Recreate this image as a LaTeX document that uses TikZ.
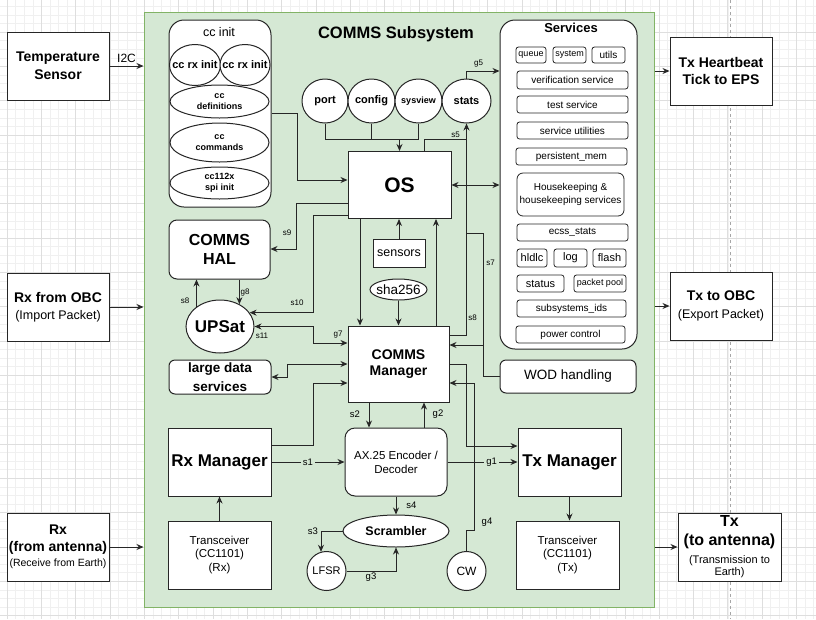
\documentclass[tikz,border=0pt]{standalone}
\usepackage{fontspec}
\setmainfont{Liberation Sans}
\usetikzlibrary{arrows.meta,shapes.geometric}

\definecolor{commsfill}{HTML}{D5E8D4}
\definecolor{commsline}{HTML}{82B366}
\newcommand{\fsz}[2]{\fontsize{#1}{#2}\selectfont}

\tikzset{
  sz/.style 2 args={minimum width=#1pt, minimum height=#2pt},
  box/.style={draw=black!85, line width=1pt, fill=white, align=center, inner sep=1pt},
  rbox/.style={box, rounded corners=#1},
  rbox/.default=6pt,
  oval/.style={box, ellipse, inner sep=0pt},
  sitem/.style={box, line width=0.8pt, rounded corners=2.5pt, font=\fsz{10}{12.3}},
  wire/.style={draw=black!85, line width=0.9pt},
  conn/.style={wire, -{Stealth[length=7pt,width=6pt]}},
  conn2/.style={wire, {Stealth[length=7pt,width=6pt]}-{Stealth[length=7pt,width=6pt]}},
  lbl/.style={font=\fsz{8}{9}, inner sep=0.5pt},
  lblm/.style={font=\fsz{9.5}{11}, inner sep=0.5pt},
  gridminor/.style={draw=black!6, line width=0.4pt},
  gridmajor/.style={draw=black!13, line width=0.5pt},
}

\begin{document}
\begin{tikzpicture}[x=1pt, y=-1pt]
\useasboundingbox (0,0) rectangle (816,619);
% grid of the page
\foreach \i in {0,...,94} \draw[gridminor] ({7+8.58*\i},0) -- ({7+8.58*\i},619);
\foreach \i in {-3,...,68} \draw[gridminor] (0,{32+8.58*\i}) -- (816,{32+8.58*\i});
\foreach \i in {0,...,23} \draw[gridmajor] ({7+34.32*\i},0) -- ({7+34.32*\i},619);
\foreach \i in {0,...,17} \draw[gridmajor] (0,{32+34.32*\i}) -- (816,{32+34.32*\i});
\draw[black!35, dashed, line width=0.5pt] (730,0) -- (730,619);

% subsystem frame
\node[draw=commsline, fill=commsfill, line width=1pt, sz={510}{595}] (subsys) at (399,309.5) {};
\node[font=\fsz{16.5}{20}\bfseries] (title) at (396,34) {COMMS Subsystem};

% outside blocks
\node[box, sz={102}{68}, font=\fsz{14}{18}\bfseries] (temp) at (58,66) {Temperature\\Sensor};
\node[box, sz={102}{68}, font=\fsz{12.5}{16.5}] (rxobc) at (58,307) {{\fsz{14}{16.5}\bfseries Rx from OBC}\\(Import Packet)};
\node[box, sz={102}{68}, font=\fsz{10.5}{15}] (rxant) at (58,547) {{\fsz{14}{16}\bfseries Rx}\\[1.5pt]{\fsz{14}{16}\bfseries (from antenna)}\\(Receive from Earth)};
\node[box, sz={102}{68}, font=\fsz{14}{17}\bfseries] (hb) at (721,71) {Tx Heartbeat\\Tick to EPS};
\node[box, sz={102}{68}, font=\fsz{12.5}{18}] (txobc) at (721,306) {{\fsz{14}{17}\bfseries Tx to OBC}\\(Export Packet)};
\node[box, sz={103}{68}, font=\fsz{11}{13}] (txant) at (729.5,547) {{\fsz{16}{19}\bfseries Tx}\\[6pt]{\fsz{16}{19}\bfseries (to antenna)}\\[5pt](Transmission to\\[-1pt]Earth)};

% cc init group
\node[rbox=15pt, sz={102}{187}] (ccinit) at (220,113.5) {};
\node[font=\fsz{12.5}{14}] (ccinit-t) at (219,32) {cc init};
\node[oval, sz={51}{41}, font=\fsz{11}{13}\bfseries] (ccrx1) at (195,65) {\makebox[0pt]{cc rx init}};
\node[oval, sz={50}{41}, font=\fsz{11}{13}\bfseries] (ccrx2) at (245,65) {\makebox[0pt]{cc rx init}};
\node[oval, sz={99}{33}, font=\fsz{9}{10.3}\bfseries] (ccdef) at (219.5,101.5) {cc\\definitions};
\node[oval, sz={99}{39}, font=\fsz{9}{10.7}\bfseries] (cccmd) at (219.5,142.5) {cc\\commands};
\node[oval, sz={99}{32}, font=\fsz{9}{11.3}\bfseries] (ccspi) at (219.5,183) {cc112x\\spi init};

% OS and its helpers
\node[box, sz={103}{67}, font=\fsz{21}{24}\bfseries] (os) at (399.5,185) {OS};
\node[oval, sz={46}{44}, font=\fsz{11}{13}\bfseries] (port) at (325,101) {port};
\node[oval, sz={47}{44}, font=\fsz{11}{13}\bfseries] (config) at (371.5,101) {\makebox[0pt]{config}};
\node[oval, sz={47}{44}, font=\fsz{9}{11}\bfseries] (sysview) at (418.5,101) {\makebox[0pt]{sysview}};
\node[oval, sz={49}{44}, font=\fsz{11}{13}\bfseries] (stats) at (466.5,101) {stats};

% services group
\node[rbox=15pt, sz={137}{329}] (services) at (568.5,184.5) {};
\node[font=\fsz{13}{15}\bfseries] (services-t) at (571,28) {Services};
\node[sitem, sz={30}{16}, font=\fsz{9}{11}] (queue) at (531,55) {queue};
\node[sitem, sz={33}{16}, font=\fsz{9}{11}] (system) at (569.5,55) {system};
\node[sitem, sz={33}{16}] (utils) at (608.5,55) {utils};
\node[sitem, sz={111}{18}] (verif) at (572.5,80) {verification service};
\node[sitem, sz={111}{17}] (testsrv) at (572.5,104.5) {test service};
\node[sitem, sz={111}{17}] (srvutil) at (572.5,130.5) {service utilities};
\node[sitem, sz={111}{17}] (pmem) at (571.5,156.5) {persistent\_mem};
\node[sitem, rounded corners=6pt, sz={107}{43}] (hk) at (570.5,194.5) {Housekeeping \&\\housekeeping services};
\node[sitem, sz={111}{17}] (ecss) at (572.5,232.5) {ecss\_stats};
\node[sitem, sz={30}{18}, font=\fsz{11}{13}] (hldlc) at (532,258) {hldlc};
\node[sitem, sz={33}{18}, font=\fsz{11}{13}] (log) at (570.5,258) {log};
\node[sitem, sz={33}{18}, font=\fsz{11}{13}] (flash) at (609.5,258) {flash};
\node[sitem, sz={47}{17}, font=\fsz{11}{13}] (status) at (540.5,283.5) {status};
\node[sitem, sz={52}{17}, font=\fsz{9}{11}] (ppool) at (600,283.5) {packet pool};
\node[sitem, sz={109}{17}] (subids) at (571.5,308.5) {subsystems\_ids};
\node[sitem, sz={109}{17}] (power) at (570.5,334.5) {power control};

% left column
\node[rbox=8pt, sz={101}{59}, font=\fsz{16}{19.5}\bfseries] (hal) at (219.5,249.5) {COMMS\\HAL};
\node[oval, sz={68}{53}, font=\fsz{17}{20}\bfseries] (upsat) at (220,326.5) {\makebox[0pt]{UPSat}};
\node[rbox=6pt, sz={102}{34}, font=\fsz{13.5}{19}\bfseries] (lds) at (220,377) {large data\\services};
\node[box, sz={103}{68}, font=\fsz{17}{20}\bfseries] (rxm) at (219.5,462) {Rx Manager};
\node[box, sz={103}{68}, font=\fsz{11.5}{13.3}] (trx) at (219.5,555) {Transceiver\\(CC1101)\\(Rx)};

% middle column
\node[box, sz={52}{28}, font=\fsz{12.5}{15}] (sensors) at (399,253) {sensors};
\node[oval, sz={57}{21}, font=\fsz{13.5}{15}] (sha) at (398.5,289.5) {\makebox[0pt]{sha256}};
\node[box, sz={101}{76}, font=\fsz{14}{16.7}\bfseries] (mgr) at (398.5,364) {COMMS\\Manager};
\node[rbox=10pt, sz={102}{68}, font=\fsz{11.5}{14}] (ax) at (396,462) {AX.25 Encoder /\\Decoder};
\node[oval, sz={106}{32}, font=\fsz{12.5}{15}\bfseries] (scr) at (396,531) {Scrambler};
\node[box, circle, inner sep=0pt, minimum size=39pt, font=\fsz{11}{13}] (lfsr) at (326.5,571) {LFSR};
\node[box, circle, inner sep=0pt, minimum size=39pt, font=\fsz{12}{14}] (cw) at (466.5,571) {CW};

% right column
\node[rbox=6pt, sz={136}{33}, font=\fsz{13.5}{16}] (wod) at (568,376.5) {WOD handling};
\node[box, sz={103}{68}, font=\fsz{17}{20}\bfseries] (txm) at (569.5,462) {Tx Manager};
\node[box, sz={103}{68}, font=\fsz{11.5}{13.3}] (ttx) at (567.5,555) {Transceiver\\(CC1101)\\(Tx)};

% links across the frame
\draw[conn] (temp.east) -- node[above, font=\fsz{12}{14}] {I2C} (temp.east -| subsys.west);
\draw[conn] (rxobc.east) -- (rxobc.east -| subsys.west);
\draw[conn] (rxant.east) -- (rxant.east -| subsys.west);
\draw[conn] (hb.west -| subsys.east) -- (hb.west);
\draw[conn] (txobc.west -| subsys.east) -- (txobc.west);
\draw[conn] (txant.west -| subsys.east) -- (txant.west);

% around the OS
\draw[conn] (ccinit.east |- 0,113) -| (297,180) -- (os.west |- 0,180);
\draw[wire] (port.south) |- (sysview.south |- 0,139) -- (sysview.south);
\draw[wire] (config.south) -- (config.south |- 0,139);
\draw[conn] (os.north |- 0,139) -- (os.north);
\draw[wire] (424,0 |- os.north) |- (stats.south |- 0,139);
\draw[conn] (stats.north) |- (services.west |- 0,71);
\draw[conn2] (os.east) -- (os.east -| services.west);
\draw[conn] (mgr.east |- 0,335) -| (stats.south);
\draw[wire] (wod.west) -| (483,233) -- (stats.south |- 0,233);
\coordinate (wodjoin) at (483,345);
\draw[conn] (wodjoin) -- (mgr.east |- wodjoin);
\draw[conn] (os.west |- 0,203) -| (296,249) -- (hal.east |- 0,249);
\draw[conn] (os.west |- 0,215) -| (313,0 |- upsat.25) -- (upsat.25);
\draw[conn] (upsat.140) -- (hal.south -| upsat.140);
\draw[conn] (hal.south -| upsat.49) -- (upsat.49);
\draw[conn2] (upsat.east) -| (313,343) -- (mgr.west |- 0,343);
\draw[conn] (os.south -| 360,0) -- (mgr.north -| 360,0);
\draw[conn] (mgr.north -| 436,0) -- (os.south -| 436,0);
\draw[conn] (sensors.north) -- (os.south -| sensors.north);
\draw[conn] (sha.south) -- (mgr.north -| sha.south);
\draw[conn2] (lds.east) -| (287,0 |- mgr.west) -- (mgr.west);

% radio chain
\draw[conn] (rxm.east |- 0,445) -| (313,383) -- (mgr.west |- 0,383);
\draw[conn] (rxm.east) -- node[lblm, fill=commsfill, inner sep=2pt] {s1} (ax.west);
\draw[conn] (ax.east) -- node[lblm, fill=commsfill, inner sep=2pt, pos=0.63] {g1} (txm.west);
\draw[conn] (mgr.south -| 369,0) -- (ax.north -| 369,0);
\draw[conn] (ax.north -| 424,0) -- (mgr.south -| 424,0);
\draw[conn] (ax.south) -- (scr.north);
\draw[conn] (scr.west) -| (lfsr.106);
\draw[conn] (lfsr.east) -| (scr.south);
\draw[conn] (cw.north) |- (474,530) -- (474,383) -- (mgr.east |- 0,383);
\draw[conn] (mgr.east) -| (466.5,446) -- (txm.west |- 0,446);
\draw[conn] (txm.south) -- (ttx.north -| txm.south);
\draw[conn] (trx.north) -- (rxm.south);

% signal names
\node[lbl] (l-s9) at (287,233) {s9};
\node[lbl] (l-s10) at (297,303) {s10};
\node[lbl] (l-s8a) at (185,301) {s8};
\node[lbl] (l-g8) at (245,292.5) {g8};
\node[lbl] (l-s11) at (262,336) {s11};
\node[lbl] (l-g7) at (338,335) {g7};
\node[lbl] (l-s5) at (455.5,135) {s5};
\node[lbl] (l-g5) at (478.5,63.5) {g5};
\node[lbl] (l-s7) at (490.5,263) {s7};
\node[lbl] (l-s8b) at (472.5,318) {s8};
\node[lblm] (l-s2) at (355,414) {s2};
\node[lblm] (l-g2) at (438,414) {g2};
\node[lblm] (l-s4) at (411.5,505) {s4};
\node[lblm] (l-s3) at (313,531) {s3};
\node[lblm] (l-g3) at (371,577) {g3};
\node[lblm] (l-g4) at (487,522.5) {g4};
\end{tikzpicture}
\end{document}
